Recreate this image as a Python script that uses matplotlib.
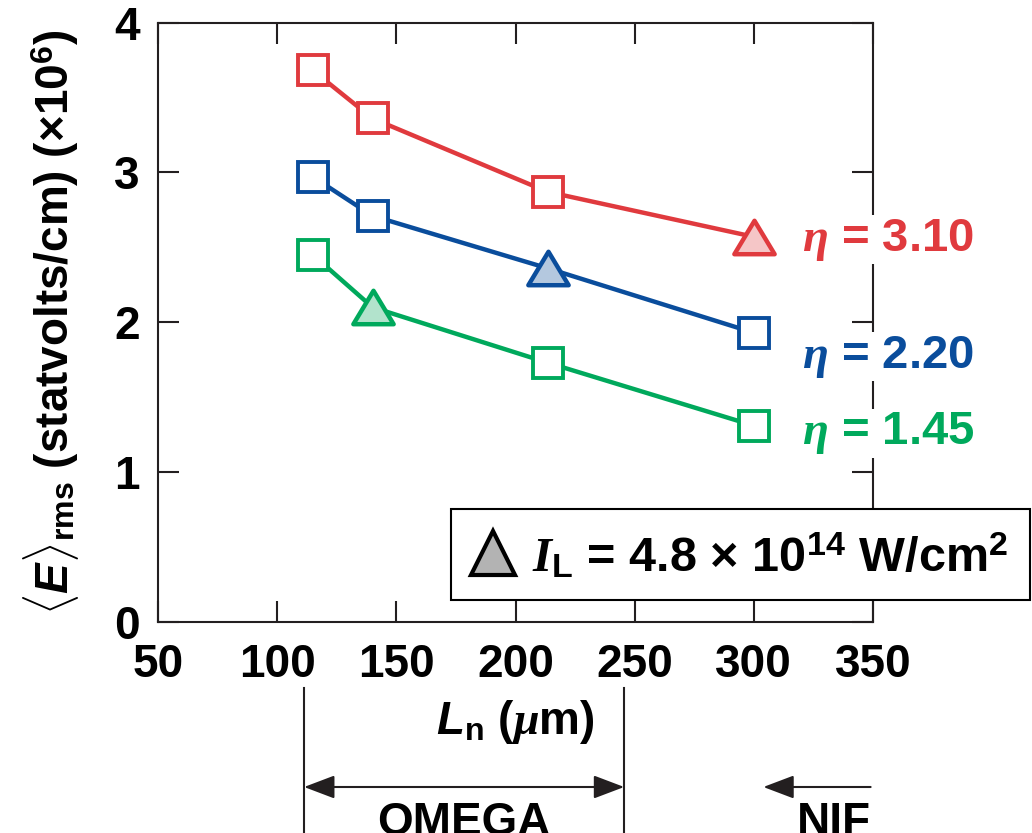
import matplotlib
matplotlib.use("Agg")
import matplotlib.pyplot as plt
from matplotlib.lines import Line2D
from matplotlib.patches import Rectangle
from matplotlib.path import Path
from matplotlib.transforms import blended_transform_factory

# ---------------- data ----------------
L_red = [115, 140, 213.5, 300]
E_red = [3.68, 3.36, 2.87, 2.57]
L_blue = [115, 140, 213.5, 300]
E_blue = [2.97, 2.71, 2.36, 1.93]
L_green = [115, 140, 213.5, 300]
E_green = [2.45, 2.10, 1.73, 1.31]
tri_red, tri_blue, tri_green = 3, 2, 1          # index of the triangle point
eta_labels = ["3.10", "2.20", "1.45"]
eta_label_y = [2.55, 1.77, 1.26]
x_ticks = [50, 100, 150, 200, 250, 300, 350]
y_ticks = [0, 1, 2, 3, 4]
omega_range = [111.3, 245.6]
nif_range = [349, 304]

plt.rcParams['font.family'] = ['Liberation Sans', 'DejaVu Sans']
plt.rcParams['font.weight'] = 'bold'
plt.rcParams['mathtext.fontset'] = 'custom'
plt.rcParams['mathtext.rm'] = 'Liberation Sans:bold'
plt.rcParams['mathtext.bf'] = 'Liberation Sans:bold'
plt.rcParams['mathtext.it'] = 'Liberation Serif:italic:bold'
plt.rcParams['mathtext.sf'] = 'Liberation Sans:italic:bold'

W, H = 1032, 833
fig = plt.figure(figsize=(W / 100, H / 100), dpi=100)
ax = fig.add_axes([158 / W, 1 - 622 / H, (873 - 158) / W, (622 - 22.5) / H])

FS = 33
spine_c = '#231f20'
red, blue, green = '#e03a3e', '#0a4d9c', '#00a95c'
red_f, blue_f, green_f = '#f5c6c7', '#b4c8df', '#b2e3cc'

tri_path = Path([(-1, -0.83), (1, -0.83), (0, 0.83), (-1, -0.83)],
                [Path.MOVETO, Path.LINETO, Path.LINETO, Path.CLOSEPOLY])

for L, E, ti, c, fc in [(L_red, E_red, tri_red, red, red_f),
                        (L_blue, E_blue, tri_blue, blue, blue_f),
                        (L_green, E_green, tri_green, green, green_f)]:
    ax.plot(L, E, '-', color=c, lw=3.2, zorder=3)
    sq_x = [x for i, x in enumerate(L) if i != ti]
    sq_y = [y for i, y in enumerate(E) if i != ti]
    ax.plot(sq_x, sq_y, 's', ms=21.5, mfc='white', mec=c, mew=2.8, zorder=4)
    ax.plot([L[ti]], [E[ti]], marker=tri_path, ms=29, mfc=fc, mec=c, mew=3.2,
            ls='none', zorder=4)

ax.set_xlim(50, 350)
ax.set_ylim(0, 4)
ax.set_xticks(x_ticks)
ax.set_yticks(y_ticks)
ax.tick_params(direction='in', length=15, width=1.5, color=spine_c,
               labelsize=FS, top=True, right=True)
ax.tick_params(axis='x', pad=15)
ax.tick_params(axis='y', pad=13)
for lab in ax.get_xticklabels() + ax.get_yticklabels():
    lab.set_fontweight('bold')
for s in ax.spines.values():
    s.set_color(spine_c)
    s.set_linewidth(1.5)

ax.set_ylabel(r'$\langle\mathsf{E}\rangle_{\mathrm{rms}}$ (statvolts/cm) (×10$^{\mathrm{6}}$)',
              fontsize=33, fontweight='bold', labelpad=24)
ax.set_xlabel(r'$\mathsf{L}_{\mathrm{n}}$ ($\mu$m)', fontsize=FS, fontweight='bold',
              labelpad=8)

for lab, y, c in zip(eta_labels, eta_label_y, [red, blue, green]):
    ax.text(320, y, r'$\eta$ = ' + lab, color=c, fontsize=34, fontweight='bold',
            va='center', ha='left', zorder=5,
            bbox=dict(fc='white', ec='none', pad=1))

# legend box
fig.add_artist(Rectangle((451 / W, 1 - 600 / H), (1030 - 451) / W, 91 / H,
                         transform=fig.transFigure, fc='white', ec='black',
                         lw=1.5, zorder=10))
fig.add_artist(Line2D([493 / W], [1 - 553 / H], marker='^', ms=31, mfc='#b3b3b3',
                      mec='black', mew=3, ls='none', transform=fig.transFigure,
                      zorder=11))
fig.text(532 / W, 1 - 556 / H,
         r'$I_{\mathrm{L}}$ = 4.8 × 10$^{\mathrm{14}}$ W/cm$^{\mathrm{2}}$',
         fontsize=35, fontweight='bold', va='center', ha='left', zorder=12)

# facility ranges under the axis
tr = blended_transform_factory(ax.transData, fig.transFigure)
for xv in omega_range:
    fig.add_artist(Line2D([xv, xv], [1 - 688 / H, 0], color=spine_c, lw=1.5,
                          transform=tr))
arr_y = 1 - 787 / H
ap = dict(arrowstyle='<|-|>,head_length=0.95,head_width=0.36', color=spine_c,
          lw=1.5, mutation_scale=20, shrinkA=0, shrinkB=0)
ax.annotate('', xy=(omega_range[0], arr_y), xytext=(omega_range[1], arr_y),
            xycoords=tr, textcoords=tr, arrowprops=ap, annotation_clip=False)
ap2 = dict(ap, arrowstyle='-|>,head_length=0.95,head_width=0.36')
ax.annotate('', xy=(nif_range[1], arr_y), xytext=(nif_range[0], arr_y),
            xycoords=tr, textcoords=tr, arrowprops=ap2, annotation_clip=False)
fig.text(sum(omega_range) / 2, -0.002, 'OMEGA', transform=tr, fontsize=FS,
         fontweight='bold', ha='center', va='baseline')
fig.text(nif_range[0], -0.002, 'NIF', transform=tr, fontsize=FS,
         fontweight='bold', ha='right', va='baseline')

fig.savefig('out.png', dpi=100)
